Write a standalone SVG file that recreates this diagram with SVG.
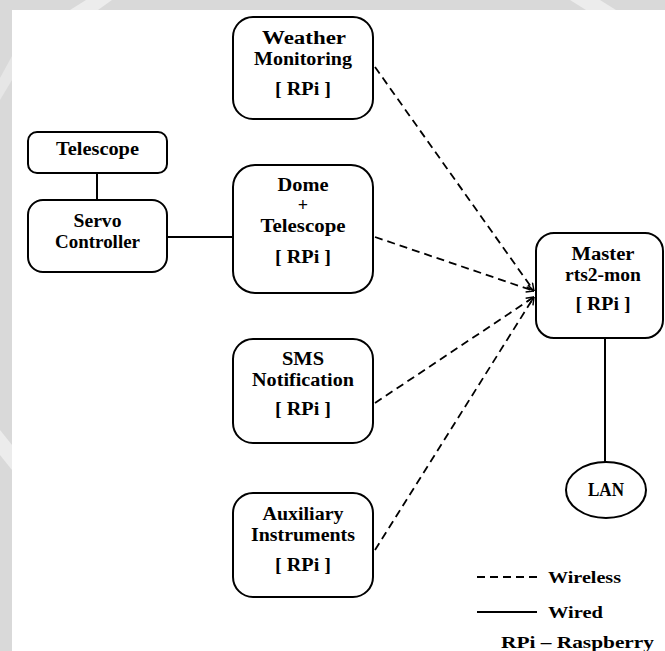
<svg xmlns="http://www.w3.org/2000/svg" width="665" height="651" viewBox="0 0 665 651">
  <style>
    .box { fill: #ffffff; stroke: #000000; stroke-width: 2; }
    .t { font-family: "Liberation Serif", "Times New Roman", serif; font-weight: bold; font-size: 18px; fill: #000000; text-anchor: middle; }
    .lg { font-family: "Liberation Serif", "Times New Roman", serif; font-weight: bold; font-size: 17px; fill: #000000; }
    .wired { stroke: #000000; stroke-width: 2; fill: none; }
    .wireless { stroke: #000000; stroke-width: 1.8; fill: none; stroke-dasharray: 8 5; }
  </style>
  <defs>
    <marker id="arrow" viewBox="0 0 10 10" refX="9.5" refY="5" markerWidth="9" markerHeight="9" markerUnits="userSpaceOnUse" orient="auto">
      <path d="M1,1 L9.5,5 L1,9" fill="none" stroke="#000000" stroke-width="1.6" stroke-dasharray="none"/>
    </marker>
  </defs>

  <!-- background -->
  <rect x="0" y="0" width="665" height="651" fill="#ffffff"/>
  <rect x="0" y="0" width="665" height="10" fill="#d9d9d9"/>
  <rect x="0" y="0" width="12" height="651" fill="#d9d9d9"/>
  <polygon points="70,10 86,0 112,0 98,10" fill="#ececec"/>
  <polygon points="570,0 600,0 616,10 586,10" fill="#ececec"/>
  <polygon points="0,78 12,56 12,80 0,100" fill="#e6e6e6"/>
  <polygon points="0,430 12,445 12,470 0,455" fill="#ececec"/>

  <!-- connectors -->
  <g id="connectors">
    <line class="wired" x1="97" y1="173" x2="97" y2="200"/>
    <line class="wired" x1="167" y1="237" x2="233" y2="237"/>
    <line class="wired" x1="605" y1="339" x2="605" y2="462"/>
    <line class="wireless" x1="375" y1="67" x2="534" y2="291" marker-end="url(#arrow)"/>
    <line class="wireless" x1="375" y1="237" x2="534" y2="291" marker-end="url(#arrow)"/>
    <line class="wireless" x1="375" y1="403" x2="534" y2="297" marker-end="url(#arrow)"/>
    <line class="wireless" x1="375" y1="550" x2="534" y2="297" marker-end="url(#arrow)"/>
  </g>

  <!-- nodes -->
  <g id="weather">
    <rect class="box" x="233" y="17" width="140" height="102" rx="20"/>
    <text class="t" x="304" y="44" textLength="84" lengthAdjust="spacingAndGlyphs">Weather</text>
    <text class="t" x="303" y="65" textLength="98" lengthAdjust="spacingAndGlyphs">Monitoring</text>
    <text class="t" x="303" y="95" textLength="56" lengthAdjust="spacingAndGlyphs">[ RPi ]</text>
  </g>

  <g id="telescope">
    <rect class="box" x="28" y="132" width="139" height="41" rx="9"/>
    <text class="t" x="97.5" y="155" textLength="83" lengthAdjust="spacingAndGlyphs">Telescope</text>
  </g>

  <g id="servo">
    <rect class="box" x="28" y="200" width="139" height="72" rx="15"/>
    <text class="t" x="97.5" y="227" textLength="48" lengthAdjust="spacingAndGlyphs">Servo</text>
    <text class="t" x="97.5" y="248" textLength="85" lengthAdjust="spacingAndGlyphs">Controller</text>
  </g>

  <g id="dome">
    <rect class="box" x="233" y="165" width="140" height="128" rx="22"/>
    <text class="t" x="303" y="191" textLength="51" lengthAdjust="spacingAndGlyphs">Dome</text>
    <text class="t" x="303" y="211">+</text>
    <text class="t" x="303" y="232" textLength="85" lengthAdjust="spacingAndGlyphs">Telescope</text>
    <text class="t" x="303" y="263" textLength="56" lengthAdjust="spacingAndGlyphs">[ RPi ]</text>
  </g>

  <g id="sms">
    <rect class="box" x="233" y="339" width="140" height="104" rx="20"/>
    <text class="t" x="303" y="365" textLength="42" lengthAdjust="spacingAndGlyphs">SMS</text>
    <text class="t" x="303" y="386" textLength="102" lengthAdjust="spacingAndGlyphs">Notification</text>
    <text class="t" x="303" y="415" textLength="56" lengthAdjust="spacingAndGlyphs">[ RPi ]</text>
  </g>

  <g id="auxiliary">
    <rect class="box" x="233" y="493" width="140" height="104" rx="20"/>
    <text class="t" x="303" y="520" textLength="81" lengthAdjust="spacingAndGlyphs">Auxiliary</text>
    <text class="t" x="303" y="541" textLength="104" lengthAdjust="spacingAndGlyphs">Instruments</text>
    <text class="t" x="303" y="571" textLength="56" lengthAdjust="spacingAndGlyphs">[ RPi ]</text>
  </g>

  <g id="master">
    <rect class="box" x="536" y="233" width="127" height="105" rx="18"/>
    <text class="t" x="603" y="260" textLength="63" lengthAdjust="spacingAndGlyphs">Master</text>
    <text class="t" x="603" y="281" textLength="76" lengthAdjust="spacingAndGlyphs">rts2-mon</text>
    <text class="t" x="603" y="310" textLength="55" lengthAdjust="spacingAndGlyphs">[ RPi ]</text>
  </g>

  <g id="lan">
    <ellipse class="box" cx="606" cy="490" rx="40" ry="28" stroke-width="1.5"/>
    <text class="t" x="606" y="496" textLength="36" lengthAdjust="spacingAndGlyphs">LAN</text>
  </g>

  <!-- legend -->
  <g id="legend">
    <line class="wireless" x1="477" y1="577" x2="538" y2="577" stroke-dasharray="10 7"/>
    <text class="lg" x="548" y="583" textLength="73" lengthAdjust="spacingAndGlyphs">Wireless</text>
    <line class="wired" x1="477" y1="612" x2="537" y2="612"/>
    <text class="lg" x="548" y="618" textLength="55" lengthAdjust="spacingAndGlyphs">Wired</text>
    <text class="lg" x="501" y="648" textLength="153" lengthAdjust="spacingAndGlyphs">RPi – Raspberry</text>
  </g>
</svg>
